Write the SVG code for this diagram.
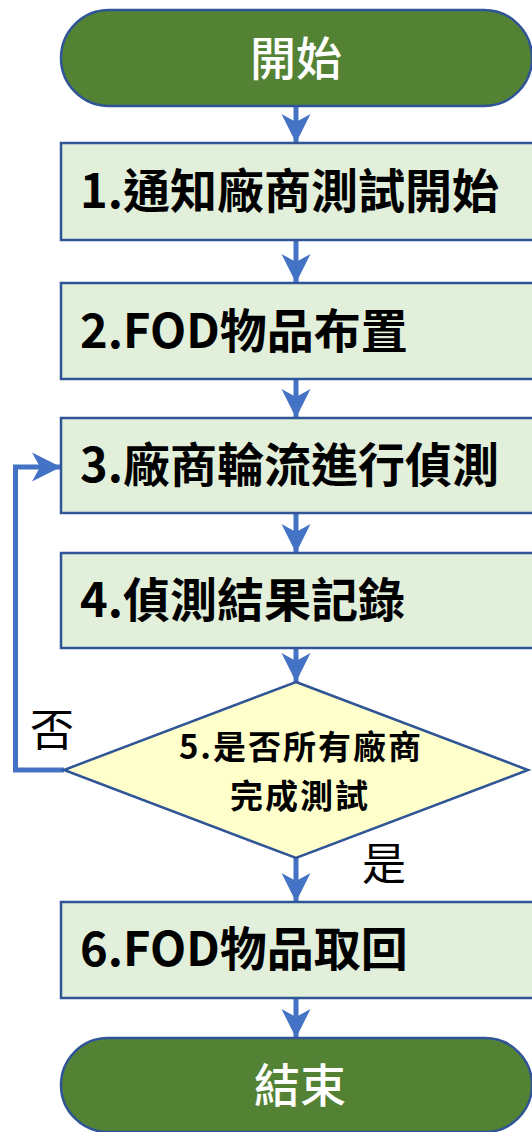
<svg xmlns="http://www.w3.org/2000/svg" width="532" height="1132" viewBox="0 0 532 1132">
<defs>
<style>
.term{fill:#548235;stroke:#2F5597;stroke-width:2.5}
.box{fill:#E2EFDA;stroke:#2F5597;stroke-width:2.5}
.dia{fill:#FFFFCC;stroke:#2F5597;stroke-width:2.5}
.tw{font-family:"Noto Sans CJK TC","Noto Sans",sans-serif;font-size:46px;fill:#FFFFFF;text-anchor:middle;font-weight:500}
.tb{font-family:"Noto Sans CJK TC","Noto Sans",sans-serif;font-size:47px;fill:#000000;font-weight:700}
.td{font-family:"Noto Sans CJK TC","Noto Sans",sans-serif;font-size:33px;letter-spacing:2px;fill:#000000;font-weight:700;text-anchor:middle}
.tl{font-family:"Noto Sans CJK TC","Noto Sans",sans-serif;font-size:44px;fill:#000000;text-anchor:middle}
.conn{fill:none;stroke:#4472C4;stroke-width:5}
</style>
<marker id="ah" markerUnits="userSpaceOnUse" markerWidth="32" markerHeight="32" viewBox="-30 -16 32 32" refX="0" refY="0" orient="auto">
<path d="M0,0 L-29,-14.5 L-21,0 L-29,14.5 Z" fill="#4472C4"/>
</marker>
</defs>
<g id="connectors">
<line class="conn" x1="296" y1="106" x2="296" y2="143" marker-end="url(#ah)"/>
<line class="conn" x1="296" y1="240" x2="296" y2="283" marker-end="url(#ah)"/>
<line class="conn" x1="296" y1="379" x2="296" y2="418" marker-end="url(#ah)"/>
<line class="conn" x1="296" y1="513" x2="296" y2="553" marker-end="url(#ah)"/>
<line class="conn" x1="296" y1="648" x2="296" y2="682" marker-end="url(#ah)"/>
<line class="conn" x1="296" y1="858" x2="296" y2="902" marker-end="url(#ah)"/>
<line class="conn" x1="296" y1="998" x2="296" y2="1038" marker-end="url(#ah)"/>
<path class="conn" d="M64,770 H15.5 V467 H61" marker-end="url(#ah)"/>
</g>
<g id="start">
<rect class="term" x="61" y="10" width="471" height="96" rx="48" ry="48"/>
<text class="tw" x="296" y="75">開始</text>
</g>
<g id="step1">
<rect class="box" x="61" y="143" width="480" height="97"/>
<text class="tb" x="80" y="208">1.通知廠商測試開始</text>
</g>
<g id="step2">
<rect class="box" x="61" y="283" width="480" height="96"/>
<text class="tb" x="80" y="348">2.FOD物品布置</text>
</g>
<g id="step3">
<rect class="box" x="61" y="418" width="480" height="95"/>
<text class="tb" x="80" y="482">3.廠商輪流進行偵測</text>
</g>
<g id="step4">
<rect class="box" x="61" y="553" width="480" height="95"/>
<text class="tb" x="80" y="617">4.偵測結果記錄</text>
</g>
<g id="decision">
<polygon class="dia" points="296,682 528,770 296,858 64,770"/>
<text class="td" x="301" y="759">5.是否所有廠商</text>
<text class="td" x="300" y="808">完成測試</text>
</g>
<g id="labels">
<text class="tl" x="52" y="746">否</text>
<text class="tl" x="384" y="880">是</text>
</g>
<g id="step6">
<rect class="box" x="61" y="902" width="480" height="96"/>
<text class="tb" x="80" y="966">6.FOD物品取回</text>
</g>
<g id="end">
<rect class="term" x="61" y="1038" width="471" height="94" rx="47" ry="47"/>
<text class="tw" x="300" y="1102">結束</text>
</g>
</svg>
